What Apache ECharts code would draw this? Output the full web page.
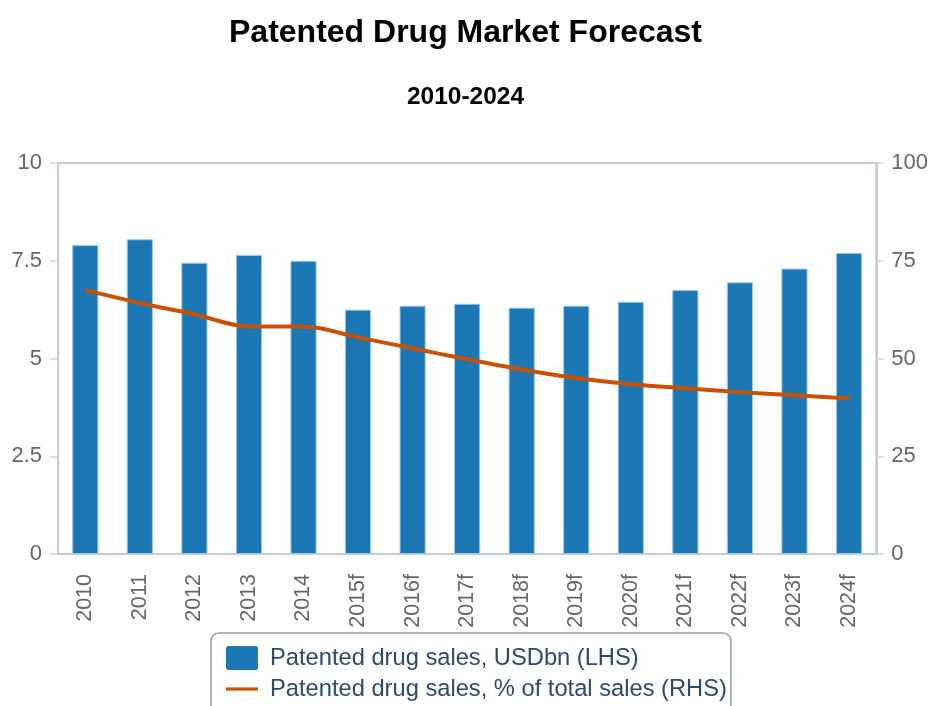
<!DOCTYPE html>
<html>
<head>
<meta charset="utf-8">
<script src="https://cdn.jsdelivr.net/npm/echarts@6/dist/echarts.min.js"></script>
<style>
  html, body { margin: 0; padding: 0; background: #fff; }
  #chart { width: 931px; height: 706px; }
</style>
</head>
<body>
<div id="chart"></div>
<script>
// Patented drug market, actuals 2010-2014 and forecasts 2015-2024
const years = ['2010', '2011', '2012', '2013', '2014', '2015f', '2016f', '2017f', '2018f', '2019f', '2020f', '2021f', '2022f', '2023f', '2024f'];
const salesUsdBn = [7.9, 8.05, 7.45, 7.65, 7.5, 6.25, 6.35, 6.4, 6.3, 6.35, 6.45, 6.75, 6.95, 7.3, 7.7];
const shareOfTotal = [67.5, 64.2, 61.3, 58.2, 58.2, 55.4, 52.6, 49.8, 47.2, 45.0, 43.4, 42.4, 41.4, 40.6, 39.8];
const leftTicks = { min: 0, max: 10, interval: 2.5 };
const rightTicks = { min: 0, max: 100, interval: 25 };

const FONT = '"Liberation Sans", Arial, sans-serif';
const axisGray = '#c4ccd8';
const tickBlue = '#c6d8ea';
const labelGray = '#666';
const barBlue = '#1c78b4';
const lineOrange = '#c85104';

const chart = echarts.init(document.getElementById('chart'));
chart.setOption({
  animation: false,
  textStyle: { fontFamily: FONT },
  title: [
    {
      text: 'Patented Drug Market Forecast',
      left: 'center', top: 12,
      textStyle: { fontFamily: FONT, fontSize: 32, fontWeight: 'bold', color: '#000' }
    },
    {
      text: '2010-2024',
      left: 'center', top: 80,
      textStyle: { fontFamily: FONT, fontSize: 24.5, fontWeight: 'bold', color: '#000' }
    }
  ],
  grid: {
    left: 58, right: 54, top: 163, bottom: 152,
    show: true, borderColor: axisGray, borderWidth: 2, backgroundColor: 'transparent'
  },
  legend: {
    orient: 'vertical',
    left: 211, top: 633,
    height: 200,
    padding: [13, 4, 30, 15],
    itemGap: 7,
    itemWidth: 32, itemHeight: 24,
    borderColor: '#999', borderWidth: 1.5, borderRadius: 8,
    textStyle: { fontFamily: FONT, fontSize: 23.7, color: '#2a4b6e', padding: [0, 0, 0, 7] },
    data: [
      {
        name: 'Patented drug sales, USDbn (LHS)',
        icon: 'path://M2.5,0H29.5Q32,0 32,2.5V21.5Q32,24 29.5,24H2.5Q0,24 0,21.5V2.5Q0,0 2.5,0Z',
        itemStyle: { borderWidth: 0 }
      },
      { name: 'Patented drug sales, % of total sales (RHS)', icon: 'path://M0,0H32V3.2H0Z', itemStyle: { color: lineOrange } }
    ]
  },
  xAxis: {
    type: 'category',
    data: years,
    boundaryGap: true,
    axisLine: { lineStyle: { color: axisGray, width: 2 } },
    axisTick: { alignWithLabel: false, length: 10, lineStyle: { color: tickBlue, width: 1.5 } },
    axisLabel: { rotate: 90, fontSize: 21.5, color: labelGray, margin: 20, fontFamily: FONT }
  },
  yAxis: [
    {
      type: 'value',
      min: leftTicks.min, max: leftTicks.max, interval: leftTicks.interval,
      axisLine: { show: true, lineStyle: { color: axisGray, width: 2 } },
      axisTick: { show: true, length: 8, lineStyle: { color: tickBlue, width: 1.5 } },
      splitLine: { show: false },
      axisLabel: { fontSize: 22, color: labelGray, margin: 16, fontFamily: FONT }
    },
    {
      type: 'value',
      min: rightTicks.min, max: rightTicks.max, interval: rightTicks.interval,
      axisLine: { show: true, lineStyle: { color: axisGray, width: 2 } },
      axisTick: { show: true, length: 8, lineStyle: { color: tickBlue, width: 1.5 } },
      splitLine: { show: false },
      axisLabel: { fontSize: 22, color: labelGray, margin: 15, fontFamily: FONT }
    }
  ],
  series: [
    {
      name: 'Patented drug sales, USDbn (LHS)',
      type: 'bar',
      yAxisIndex: 0,
      data: salesUsdBn,
      barWidth: '48%',
      itemStyle: { color: barBlue, borderColor: '#9cc8e8', borderWidth: 1 }
    },
    {
      name: 'Patented drug sales, % of total sales (RHS)',
      type: 'line',
      yAxisIndex: 1,
      data: shareOfTotal,
      smooth: 0.35,
      symbol: 'none',
      lineStyle: { color: lineOrange, width: 4 },
      itemStyle: { color: lineOrange }
    }
  ]
});
</script>
</body>
</html>
